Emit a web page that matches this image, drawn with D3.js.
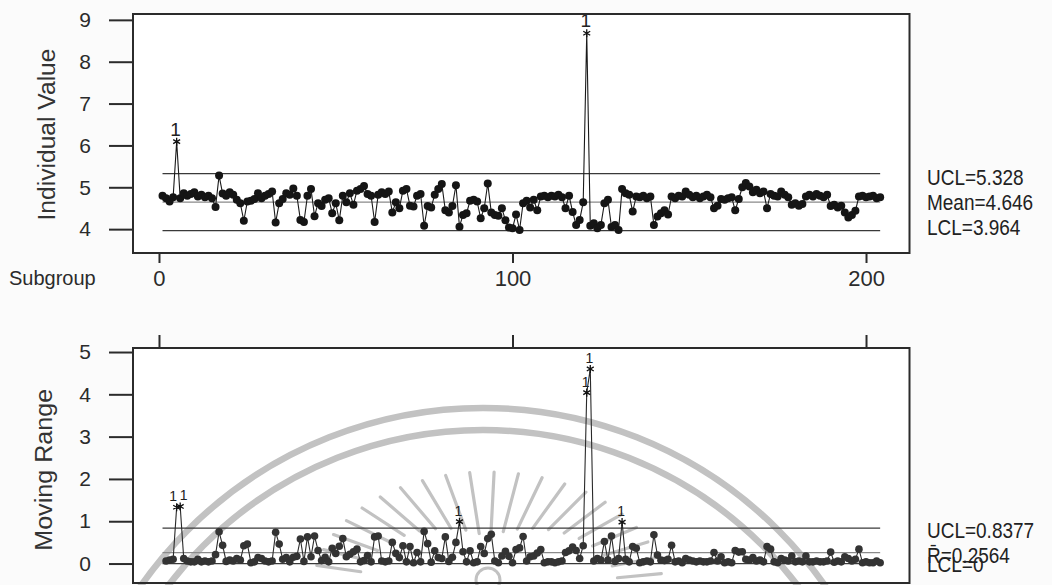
<!DOCTYPE html>
<html>
<head>
<meta charset="utf-8">
<script src="https://cdn.jsdelivr.net/npm/d3@7"></script>
<style>
  html, body { margin: 0; padding: 0; background: #fbfbfb; }
  svg { display: block; font-family: "Liberation Sans", Arial, sans-serif; }
</style>
</head>
<body>
<svg id="chart" width="1052" height="585"></svg>
<script>
// Individual observations, subgroup 1..204
const individualValues = [
  4.80, 4.74, 4.66, 4.76, 6.09, 4.74, 4.86, 4.80, 4.84, 4.88,
  4.78, 4.82, 4.76, 4.80, 4.74, 4.53, 5.28, 4.85, 4.80, 4.88,
  4.82, 4.70, 4.62, 4.20, 4.66, 4.68, 4.72, 4.86, 4.74, 4.80,
  4.84, 4.90, 4.16, 4.62, 4.72, 4.86, 4.82, 4.97, 4.80, 4.22,
  4.17, 4.80, 4.96, 4.31, 4.62, 4.55, 4.70, 4.74, 4.38, 4.62,
  4.21, 4.80, 4.64, 4.86, 4.58, 4.92, 4.96, 5.03, 4.84, 4.80,
  4.17, 4.82, 4.88, 4.84, 4.90, 4.40, 4.64, 4.50, 4.92, 4.96,
  4.56, 4.54, 4.80, 4.84, 4.08, 4.55, 4.52, 4.82, 4.96, 5.08,
  4.45, 4.40, 4.55, 5.05, 4.06, 4.34, 4.38, 4.68, 4.70, 4.66,
  4.26, 4.50, 5.09, 4.40, 4.34, 4.32, 4.50, 4.21, 4.04, 4.02,
  4.35, 3.98, 4.62, 4.68, 4.52, 4.70, 4.45, 4.78, 4.80, 4.76,
  4.80, 4.78, 4.82, 4.76, 4.50, 4.80, 4.41, 4.10, 4.22, 4.64,
  8.68, 4.08, 4.14, 4.02, 4.10, 4.62, 4.70, 4.05, 4.10, 3.98,
  4.96, 4.86, 4.82, 4.42, 4.78, 4.76, 4.80, 4.74, 4.78, 4.10,
  4.30, 4.38, 4.45, 4.35, 4.78, 4.74, 4.80, 4.78, 4.90, 4.82,
  4.76, 4.80, 4.74, 4.78, 4.82, 4.76, 4.50, 4.56, 4.72, 4.70,
  4.74, 4.76, 4.45, 4.72, 5.00, 5.10, 5.02, 4.88, 4.94, 4.86,
  4.90, 4.50, 4.84, 4.80, 4.78, 4.90, 4.82, 4.76, 4.58, 4.62,
  4.56, 4.60, 4.78, 4.82, 4.78, 4.84, 4.80, 4.76, 4.82, 4.55,
  4.58, 4.52, 4.56, 4.40, 4.28, 4.34, 4.44, 4.78, 4.80, 4.76,
  4.78, 4.80, 4.74, 4.76
];

// Moving ranges of two, subgroup 2..204
const movingRanges = [
  0.06, 0.08, 0.10, 1.33, 1.35, 0.12, 0.06, 0.04, 0.04, 0.10,
  0.04, 0.06, 0.04, 0.06, 0.21, 0.75, 0.43, 0.05, 0.08, 0.06,
  0.12, 0.08, 0.42, 0.46, 0.02, 0.04, 0.14, 0.12, 0.06, 0.04,
  0.06, 0.74, 0.46, 0.10, 0.14, 0.04, 0.15, 0.17, 0.58, 0.05,
  0.63, 0.16, 0.65, 0.31, 0.07, 0.15, 0.04, 0.36, 0.24, 0.41,
  0.59, 0.16, 0.22, 0.28, 0.34, 0.04, 0.07, 0.19, 0.04, 0.63,
  0.65, 0.06, 0.04, 0.06, 0.50, 0.24, 0.14, 0.42, 0.04, 0.40,
  0.02, 0.26, 0.04, 0.76, 0.47, 0.03, 0.30, 0.14, 0.12, 0.63,
  0.05, 0.15, 0.50, 0.99, 0.28, 0.04, 0.30, 0.02, 0.04, 0.40,
  0.24, 0.59, 0.69, 0.06, 0.02, 0.18, 0.29, 0.17, 0.02, 0.33,
  0.37, 0.64, 0.06, 0.16, 0.18, 0.25, 0.33, 0.02, 0.04, 0.04,
  0.02, 0.04, 0.06, 0.26, 0.30, 0.39, 0.31, 0.12, 0.42, 4.04,
  4.60, 0.06, 0.12, 0.08, 0.52, 0.08, 0.65, 0.05, 0.12, 0.98,
  0.10, 0.04, 0.40, 0.36, 0.02, 0.04, 0.06, 0.04, 0.68, 0.20,
  0.08, 0.07, 0.10, 0.43, 0.04, 0.06, 0.02, 0.12, 0.08, 0.06,
  0.04, 0.06, 0.04, 0.04, 0.06, 0.26, 0.06, 0.16, 0.02, 0.04,
  0.02, 0.31, 0.27, 0.28, 0.10, 0.08, 0.14, 0.06, 0.08, 0.04,
  0.40, 0.34, 0.04, 0.02, 0.12, 0.08, 0.06, 0.18, 0.04, 0.06,
  0.04, 0.18, 0.04, 0.04, 0.06, 0.04, 0.04, 0.06, 0.27, 0.03,
  0.06, 0.04, 0.16, 0.12, 0.06, 0.10, 0.34, 0.02, 0.04, 0.02,
  0.02, 0.06, 0.02
];

const subgroupTicks = [0, 100, 200];
const individualTicks = [4, 5, 6, 7, 8, 9];
const rangeTicks = [0, 1, 2, 3, 4, 5];

const individualLimitValues = [5.328, 4.646, 3.964];
const individualLimitLabels = ["UCL=5.328", "Mean=4.646", "LCL=3.964"];
const rangeLimitValues = [0.8377, 0.2564, 0];
const rangeLimitLabels = ["UCL=0.8377", "R\u0304=0.2564", "LCL=0"];

const svg = d3.select("#chart");
const ink = "#2b2b2b";

// Shared subgroup scale; both panels use the same frame width
const frameL = 133, frameR = 909.5;
const x = d3.scaleLinear().domain([-7.35, 212.3]).range([frameL, frameR]);

const topBox = { top: 14, bottom: 253 };
const botBox = { top: 348, bottom: 583 };
const yI = d3.scaleLinear().domain([3.43, 9.14]).range([topBox.bottom, topBox.top]);
const yM = d3.scaleLinear().domain([-0.46, 5.095]).range([botBox.bottom, botBox.top]);

// Panel backgrounds
[topBox, botBox].forEach(b => {
  svg.append("rect")
    .attr("x", frameL).attr("y", b.top)
    .attr("width", frameR - frameL).attr("height", b.bottom - b.top)
    .attr("fill", "#ffffff");
});

// Seal watermark behind the moving range panel
const seal = svg.append("g").attr("fill", "none").attr("stroke", "#c2c2c2");
[418, 396].forEach(r => {
  seal.append("circle").attr("cx", 483).attr("cy", 826).attr("r", r).attr("stroke-width", 6.5);
});
d3.range(8, 173, 8).forEach(deg => {
  const a = deg * Math.PI / 180, c = Math.cos(a), s = Math.sin(a);
  const fin = 0.45 + 0.3 * Math.abs(c);
  seal.append("line")
    .attr("x1", 488 + 175 * fin * c).attr("y1", 590 - 118 * fin * s)
    .attr("x2", 488 + 175 * c).attr("y2", 590 - 118 * s)
    .attr("stroke-width", 3.2).attr("stroke-linecap", "round");
});
seal.append("circle").attr("cx", 488).attr("cy", 580).attr("r", 12).attr("stroke-width", 3);

// Axes
function styleAxis(g) {
  g.select(".domain").remove();
  g.selectAll(".tick line").attr("stroke", ink).attr("stroke-width", 2);
  g.selectAll(".tick text").attr("fill", ink).attr("font-size", 21)
    .attr("font-family", "Liberation Sans, Arial, sans-serif");
}
const intFmt = d3.format("d");
svg.append("g").attr("transform", `translate(${frameL},0)`)
  .call(d3.axisLeft(yI).tickValues(individualTicks).tickFormat(intFmt).tickSize(24).tickPadding(18))
  .call(styleAxis);
svg.append("g").attr("transform", `translate(${frameL},0)`)
  .call(d3.axisLeft(yM).tickValues(rangeTicks).tickFormat(intFmt).tickSize(24).tickPadding(18))
  .call(styleAxis);
svg.append("g").attr("transform", `translate(0,${topBox.bottom})`)
  .call(d3.axisBottom(x).tickValues(subgroupTicks).tickFormat(intFmt).tickSize(10).tickPadding(7))
  .call(styleAxis)
  .call(g => g.selectAll(".tick text").attr("font-size", 22));
svg.append("g").attr("transform", `translate(0,${botBox.top})`)
  .call(d3.axisTop(x).tickValues(subgroupTicks).tickSize(13).tickFormat(""))
  .call(styleAxis);

// Axis titles
svg.append("text")
  .attr("transform", `translate(55,${(yI(4) + yI(9)) / 2 + 10}) rotate(-90)`)
  .attr("text-anchor", "middle").attr("font-size", 23).attr("fill", "#333")
  .attr("textLength", 172).attr("lengthAdjust", "spacingAndGlyphs")
  .text("Individual Value");
svg.append("text")
  .attr("transform", `translate(52,${(yM(0) + yM(5)) / 2 + 12}) rotate(-90)`)
  .attr("text-anchor", "middle").attr("font-size", 23).attr("fill", "#333")
  .attr("textLength", 162).attr("lengthAdjust", "spacingAndGlyphs")
  .text("Moving Range");
svg.append("text")
  .attr("x", 9).attr("y", 285).attr("font-size", 20).attr("fill", ink)
  .text("Subgroup");

// Control limits: lines span first to last subgroup
const firstSub = 1, lastSub = individualValues.length;
function limitLines(values, y) {
  values.forEach((v, k) => {
    svg.append("line")
      .attr("x1", x(firstSub)).attr("x2", x(lastSub))
      .attr("y1", y(v)).attr("y2", y(v))
      .attr("stroke", k === 1 ? "#8a8a8a" : "#3a3a3a")
      .attr("stroke-width", 1.2);
  });
}
limitLines(individualLimitValues, yI);
limitLines(rangeLimitValues, yM);

// Limit labels at the right, slightly tall glyphs
function limitLabels(labels, baselines) {
  labels.forEach((t, k) => {
    svg.append("text")
      .attr("transform", `translate(927,${baselines[k]}) scale(1,1.2)`)
      .attr("font-size", 19).attr("fill", "#222")
      .text(t);
  });
}
limitLabels(individualLimitLabels, [185, 210, 235]);
limitLabels(rangeLimitLabels, [538, 563, 572]);

// Individual value series
const ucl = individualLimitValues[0], lcl = individualLimitValues[2];
const indPts = individualValues.map((v, i) => ({ s: i + 1, v, out: v > ucl || v < lcl }));
svg.append("path")
  .datum(indPts)
  .attr("fill", "none").attr("stroke", "#1a1a1a").attr("stroke-width", 1.1)
  .attr("d", d3.line().x(d => x(d.s)).y(d => yI(d.v)));
svg.append("g").selectAll("circle")
  .data(indPts.filter(d => !d.out)).join("circle")
  .attr("cx", d => x(d.s)).attr("cy", d => yI(d.v)).attr("r", 4)
  .attr("fill", "#151515");

// Moving range series
const mrUcl = rangeLimitValues[0];
const mrPts = movingRanges.map((v, i) => ({ s: i + 2, v, out: v > mrUcl }));
svg.append("path")
  .datum(mrPts)
  .attr("fill", "none").attr("stroke", "#2a2a2a").attr("stroke-width", 1.1)
  .attr("d", d3.line().x(d => x(d.s)).y(d => yM(d.v)));
svg.append("g").selectAll("circle")
  .data(mrPts.filter(d => !d.out)).join("circle")
  .attr("cx", d => x(d.s)).attr("cy", d => yM(d.v)).attr("r", 3.8)
  .attr("fill", "#333");

// Out-of-control points: asterisk symbol plus test-1 flag
const star = d3.symbol().type(d3.symbolAsterisk).size(45);
function flagPoints(pts, y, fontSize) {
  const flagged = pts.filter(d => d.out);
  // neighbouring flags are nudged apart so the digits stay readable
  const shift = flagged.map((d, k) => {
    const prev = flagged[k - 1], next = flagged[k + 1];
    if (next && next.s === d.s + 1 && Math.abs(y(next.v) - y(d.v)) < 12) return -3.5;
    if (prev && prev.s === d.s - 1 && Math.abs(y(prev.v) - y(d.v)) < 12) return 3.5;
    return -1;
  });
  const g = svg.append("g");
  g.selectAll("path").data(flagged).join("path")
    .attr("transform", d => `translate(${x(d.s)},${y(d.v)})`)
    .attr("d", star).attr("fill", "none").attr("stroke", "#111").attr("stroke-width", 1.3);
  g.selectAll("text").data(flagged).join("text")
    .attr("x", (d, k) => x(d.s) + shift[k]).attr("y", d => y(d.v) - 6)
    .attr("text-anchor", "middle").attr("font-size", fontSize).attr("fill", "#222")
    .text("1");
}
flagPoints(indPts, yI, 19);
flagPoints(mrPts, yM, 14);

// Panel frames
[topBox, botBox].forEach(b => {
  svg.append("rect")
    .attr("x", frameL).attr("y", b.top)
    .attr("width", frameR - frameL).attr("height", b.bottom - b.top)
    .attr("fill", "none").attr("stroke", ink).attr("stroke-width", 2);
});
</script>
</body>
</html>
